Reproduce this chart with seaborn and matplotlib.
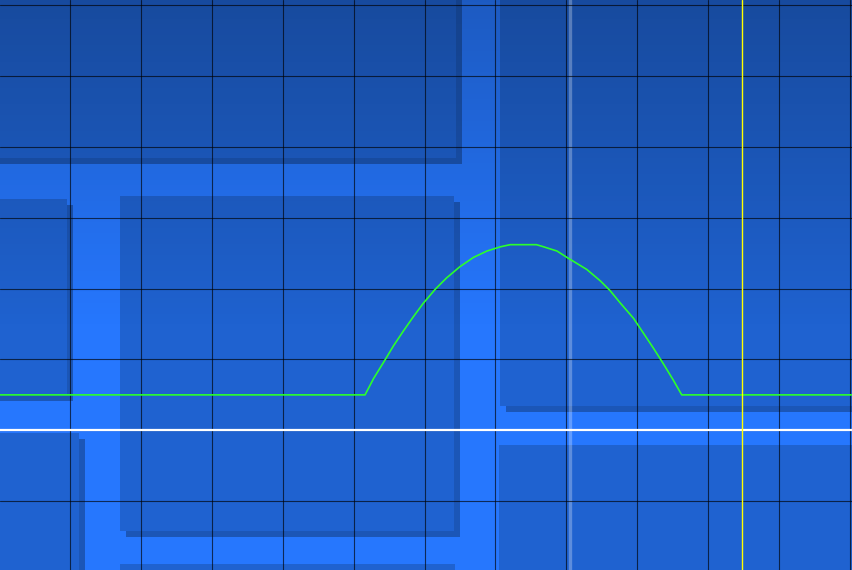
import numpy as np
import pandas as pd
import matplotlib
matplotlib.use("Agg")
import matplotlib.pyplot as plt
from matplotlib.patches import Rectangle
import seaborn as sns

# trace readout, in screen divisions (white line = 0)
trace_x = [-1.0, 4.16, 4.28, 4.44, 4.56, 4.70, 4.84, 4.98, 5.15, 5.31, 5.50,
           5.69, 5.88, 6.07, 6.21, 6.58, 6.68, 6.87, 7.01, 7.29, 7.48, 7.62,
           7.76, 7.95, 8.09, 8.23, 8.37, 8.51, 8.63, 11.1]
trace_y = [0.50, 0.50, 0.73, 0.99, 1.19, 1.40, 1.60, 1.79, 1.99, 2.15, 2.31,
           2.44, 2.53, 2.59, 2.62, 2.62, 2.59, 2.53, 2.44, 2.27, 2.11, 1.97,
           1.80, 1.58, 1.37, 1.16, 0.94, 0.71, 0.50, 0.50]
baseline_y = 0.0
cursor_x = 9.48
marker_x = 7.05

W, H = 853, 570
bright = "#2677fe"
panel = "#1f62d0"
shadow = "#1b56b7"

# background panels in screen pixels (x0, y0, x1, y1)
panels = [
    (-20, -20, 456, 158),
    (-20, 199, 67, 395),
    (120, 196, 454, 531),
    (-20, 433, 79, 620),
    (120, 564, 455, 640),
    (500, -20, 880, 406),
    (499, 445, 880, 640),
]

sns.set_theme(style="white")
fig = plt.figure(figsize=(W / 100, H / 100), dpi=100)
ax = fig.add_axes([0, 0, 1, 1])
ax.set_facecolor(bright)


def px_rect(x0, y0, x1, y1, color, z):
    r = Rectangle((x0 / W, 1 - y1 / H), (x1 - x0) / W, (y1 - y0) / H,
                  transform=ax.transAxes, facecolor=color, edgecolor="none",
                  zorder=z)
    ax.add_patch(r)


for x0, y0, x1, y1 in panels:
    px_rect(x0 + 6, y0 + 6, x1 + 6, y1 + 6, shadow, 0.1)
for x0, y0, x1, y1 in panels:
    px_rect(x0, y0, x1, y1, panel, 0.2)

# darker towards the top of the screen
rows = np.linspace(0, H, 200)
grad = np.zeros((200, 1, 4))
grad[:, 0, 3] = 0.24 * np.clip(1 - rows / 330, 0, 1)
ax.imshow(grad, extent=(0, 1, 0, 1), transform=ax.transAxes,
          aspect="auto", origin="upper", zorder=0.3, interpolation="bilinear")

ax.axvline(marker_x, color="white", alpha=0.28, lw=2.4, zorder=0.4)

df = pd.DataFrame({"x": trace_x, "y": trace_y})
sns.lineplot(data=df, x="x", y="y", ax=ax, color="#2bff2b", lw=1.2,
             sort=False, zorder=3)
ax.axhline(baseline_y, color="white", lw=1.6, zorder=2)
ax.axvline(cursor_x, color="#ffff00", lw=1.0, zorder=4)

ax.set_xlim(-70.3 / 70.85, (W - 70.3) / 70.85)
ax.set_ylim((430.3 - H) / 70.85, 430.3 / 70.85)
ax.set_xticks(np.arange(0, 12))
ax.set_yticks(np.arange(-1, 7))
ax.set_axisbelow(True)
ax.grid(True, color="black", alpha=0.65, lw=0.8)
for g in ax.get_xgridlines() + ax.get_ygridlines():
    g.set_zorder(1)
ax.tick_params(length=0, labelbottom=False, labelleft=False)
ax.set_xlabel("")
ax.set_ylabel("")
for s in ax.spines.values():
    s.set_visible(False)

fig.savefig("out.png", dpi=100)
